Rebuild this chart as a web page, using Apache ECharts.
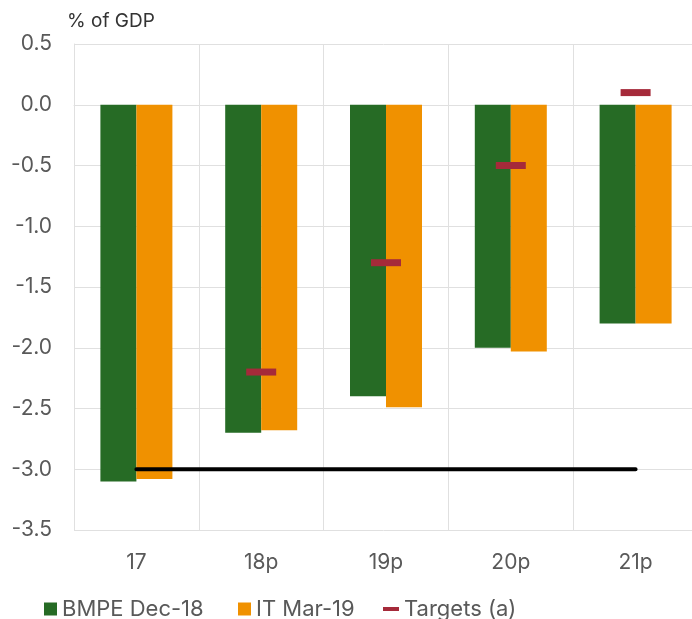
<!DOCTYPE html>
<html><head><meta charset="utf-8">
<script src="https://cdn.jsdelivr.net/npm/echarts@6/dist/echarts.min.js"></script>
<style>html,body{margin:0;padding:0;background:#fff}#c{width:692px;height:619px}</style>
</head><body><div id="c"></div>
<script>
const categories = ['17', '18p', '19p', '20p', '21p'];
const bmpe = [-3.1, -2.7, -2.4, -2.0, -1.8];
const itMar = [-3.08, -2.68, -2.49, -2.03, -1.8];
const targets = ['-', -2.2, -1.3, -0.5, 0.1];
const limit = [-3, -3, -3, -3, -3];
const yTicks = [-3.5, -3.0, -2.5, -2.0, -1.5, -1.0, -0.5, 0.0, 0.5];

const FONT = 'Inter, Liberation Sans, Arial, sans-serif';
const chart = echarts.init(document.getElementById('c'));
chart.setOption({
  animation: false,
  title: { text: '% of GDP', left: 62, top: 7, textStyle: { fontFamily: FONT, fontSize: 19, fontWeight: 'normal', color: '#333' } },
  grid: { left: 74, right: -6, top: 44, bottom: 89, outerBoundsMode: 'none', containLabel: false },
  legend: [
    { data: [{ name: 'BMPE Dec-18', icon: 'rect' }], left: 39, top: 593, itemWidth: 13, itemHeight: 13, textStyle: { fontFamily: FONT, fontSize: 22, color: '#595959' } },
    { data: [{ name: 'IT Mar-19', icon: 'rect' }], left: 233, top: 593, itemWidth: 13, itemHeight: 13, textStyle: { fontFamily: FONT, fontSize: 22, color: '#595959' } },
    { data: [{ name: 'Targets (a)', icon: 'rect' }], left: 378, top: 593, itemWidth: 16, itemHeight: 4, textStyle: { fontFamily: FONT, fontSize: 22, color: '#595959' } }
  ],
  xAxis: {
    type: 'category', data: categories, boundaryGap: true,
    axisLine: { show: true, lineStyle: { color: '#e0e0e0', width: 1 } },
    axisTick: { show: false },
    splitLine: { show: true, lineStyle: { color: '#e0e0e0', width: 1 } },
    axisLabel: { fontFamily: FONT, fontSize: 21, color: '#595959', margin: 22 }
  },
  yAxis: {
    type: 'value', min: -3.5, max: 0.5, interval: 0.5,
    axisLine: { show: true, lineStyle: { color: '#e0e0e0', width: 1 } },
    axisTick: { show: false },
    splitLine: { show: true, lineStyle: { color: '#e0e0e0', width: 1 } },
    axisLabel: { fontFamily: FONT, fontSize: 21, color: '#595959', margin: 22, formatter: v => v.toFixed(1) }
  },
  series: [
    { name: 'BMPE Dec-18', type: 'bar', data: bmpe, barWidth: 36, barGap: '0%', itemStyle: { color: '#266b25' } },
    { name: 'IT Mar-19', type: 'bar', data: itMar, barWidth: 36, barGap: '0%', itemStyle: { color: '#f09100' } },
    { name: 'Targets (a)', type: 'scatter', data: targets, symbol: 'rect', symbolSize: [30, 7], itemStyle: { color: '#a52a3a', opacity: 1 }, z: 5 },
    { name: 'limit', type: 'line', data: limit, symbol: 'none', lineStyle: { color: '#000', width: 4, cap: 'round' }, z: 6 }
  ]
});
</script></body></html>
